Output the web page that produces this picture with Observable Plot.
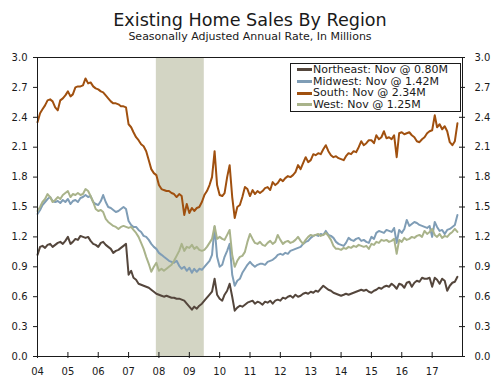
<!DOCTYPE html>
<html>
<head>
<meta charset="utf-8">
<script src="https://cdn.jsdelivr.net/npm/d3@7"></script>
<script src="https://cdn.jsdelivr.net/npm/@observablehq/plot@0.6"></script>
<style>
  html, body { margin: 0; padding: 0; background: #fff; }
  #wrap { position: relative; width: 500px; height: 378px; font-family: "DejaVu Sans", Verdana, sans-serif; color: #1a1a1a; }
  #title { position: absolute; left: 0; width: 500px; top: 11.5px; text-align: center; font-size: 17.6px; line-height: 1; }
  #subtitle { position: absolute; left: 0; width: 500px; top: 31px; text-align: center; font-size: 11px; line-height: 1; }
  #chart { position: absolute; left: 0; top: 48px; }
  #legend { position: absolute; left: 290px; top: 63px; width: 171px; height: 49px; border: 1px solid #1a1a1a; background: #fff; box-sizing: border-box; padding-top: 0px; }
  .row { display: flex; align-items: center; height: 11.7px; font-size: 11px; line-height: 11.7px; white-space: nowrap; }
  .sw { display: inline-block; width: 15px; height: 3px; margin-left: 6px; margin-right: 1px; }
</style>
</head>
<body>
<div id="wrap">
  <div id="title">Existing Home Sales By Region</div>
  <div id="subtitle">Seasonally Adjusted Annual Rate, In Millions</div>
  <div id="chart"></div>
  <div id="legend"></div>
</div>
<script>
// Monthly data, Jan 2004 .. Nov 2017 (millions, SAAR)
const startYear = 2004;
const northeast = [
  1.02,1.10,1.11,1.09,1.12,1.13,1.10,1.12,1.14,1.15,1.13,1.16,
  1.20,1.13,1.15,1.18,1.17,1.21,1.20,1.19,1.20,1.16,1.13,1.12,
  1.10,1.14,1.15,1.12,1.10,1.08,1.04,1.06,1.07,1.09,1.11,1.13,
  0.82,0.86,0.79,0.77,0.73,0.72,0.71,0.70,0.69,0.67,0.65,0.63,
  0.62,0.61,0.60,0.61,0.60,0.59,0.59,0.58,0.58,0.57,0.56,0.53,
  0.50,0.47,0.50,0.48,0.51,0.53,0.56,0.59,0.62,0.65,0.78,0.62,
  0.58,0.56,0.62,0.66,0.73,0.60,0.46,0.49,0.51,0.50,0.52,0.54,
  0.55,0.56,0.53,0.55,0.54,0.52,0.55,0.54,0.56,0.53,0.56,0.57,
  0.56,0.59,0.58,0.60,0.61,0.59,0.62,0.60,0.61,0.63,0.64,0.63,
  0.65,0.64,0.66,0.65,0.68,0.71,0.69,0.67,0.66,0.64,0.63,0.62,
  0.61,0.62,0.63,0.62,0.63,0.64,0.65,0.66,0.67,0.66,0.67,0.65,
  0.64,0.66,0.67,0.69,0.68,0.70,0.71,0.70,0.73,0.71,0.68,0.73,
  0.72,0.69,0.74,0.75,0.70,0.74,0.76,0.75,0.79,0.78,0.78,0.79,
  0.70,0.79,0.77,0.73,0.78,0.76,0.66,0.71,0.74,0.75,0.80
];
const midwest = [
  1.43,1.47,1.52,1.55,1.58,1.60,1.56,1.55,1.56,1.54,1.57,1.55,
  1.58,1.53,1.56,1.57,1.55,1.59,1.60,1.62,1.60,1.61,1.55,1.53,
  1.52,1.56,1.62,1.55,1.50,1.49,1.47,1.45,1.46,1.48,1.50,1.48,
  1.36,1.32,1.30,1.30,1.27,1.25,1.21,1.20,1.17,1.13,1.10,1.08,
  1.04,1.02,1.00,0.98,0.96,0.95,0.94,0.96,0.91,0.88,0.90,0.86,
  0.89,0.84,0.88,0.85,0.88,0.87,0.90,0.93,0.96,1.02,1.30,1.00,
  0.90,0.92,1.00,1.06,1.13,0.82,0.71,0.76,0.78,0.84,0.88,0.92,
  0.95,0.92,0.90,0.92,0.93,0.93,0.92,0.95,0.96,0.97,0.99,1.02,
  1.03,1.02,1.04,1.03,1.06,1.07,1.08,1.09,1.10,1.13,1.15,1.16,
  1.19,1.21,1.22,1.21,1.23,1.22,1.26,1.22,1.21,1.19,1.15,1.13,
  1.12,1.11,1.14,1.19,1.17,1.16,1.18,1.19,1.16,1.17,1.15,1.14,
  1.20,1.18,1.24,1.26,1.25,1.24,1.27,1.26,1.25,1.29,1.14,1.27,
  1.24,1.28,1.37,1.31,1.33,1.35,1.34,1.32,1.31,1.30,1.29,1.31,
  1.20,1.35,1.30,1.26,1.27,1.23,1.27,1.28,1.30,1.32,1.42
];
const south = [
  2.35,2.44,2.48,2.52,2.57,2.58,2.56,2.50,2.47,2.57,2.59,2.62,
  2.66,2.61,2.63,2.70,2.71,2.71,2.72,2.79,2.74,2.75,2.71,2.69,
  2.68,2.66,2.65,2.62,2.59,2.56,2.54,2.54,2.53,2.51,2.51,2.50,
  2.33,2.30,2.25,2.20,2.17,2.13,2.11,2.06,1.97,1.88,1.84,1.82,
  1.72,1.68,1.67,1.66,1.66,1.64,1.63,1.60,1.63,1.61,1.42,1.53,
  1.44,1.49,1.46,1.49,1.50,1.55,1.62,1.66,1.72,1.80,2.06,1.72,
  1.62,1.61,1.64,1.80,1.92,1.60,1.39,1.50,1.52,1.60,1.70,1.68,
  1.61,1.67,1.63,1.66,1.64,1.66,1.69,1.70,1.67,1.75,1.72,1.74,
  1.78,1.76,1.79,1.81,1.80,1.82,1.85,1.92,1.88,1.94,2.00,1.95,
  1.97,2.03,2.02,2.04,2.03,2.08,2.12,2.06,2.02,2.00,2.01,1.99,
  1.98,1.97,2.01,2.04,2.03,2.06,2.05,2.10,2.16,2.12,2.14,2.17,
  2.17,2.14,2.22,2.18,2.20,2.26,2.19,2.20,2.18,2.22,2.00,2.24,
  2.25,2.23,2.24,2.25,2.22,2.20,2.16,2.15,2.18,2.20,2.24,2.26,
  2.27,2.42,2.30,2.33,2.28,2.31,2.26,2.15,2.12,2.16,2.34
];
const west = [
  1.46,1.50,1.55,1.58,1.63,1.60,1.55,1.57,1.60,1.58,1.62,1.64,
  1.66,1.60,1.63,1.62,1.64,1.62,1.63,1.68,1.66,1.61,1.55,1.48,
  1.46,1.47,1.45,1.38,1.35,1.33,1.31,1.30,1.28,1.30,1.31,1.30,
  1.29,1.30,1.27,1.24,1.20,1.14,1.08,1.00,0.93,0.85,0.90,0.94,
  0.86,0.88,0.86,0.88,0.90,0.92,0.96,1.01,1.06,1.13,1.06,1.10,
  1.09,1.12,1.08,1.10,1.07,1.06,1.07,1.10,1.14,1.18,1.31,1.18,
  1.20,1.18,1.17,1.22,1.27,1.02,0.90,0.96,1.00,1.01,1.05,1.15,
  1.23,1.18,1.14,1.13,1.15,1.12,1.11,1.14,1.16,1.13,1.15,1.22,
  1.17,1.13,1.15,1.16,1.14,1.15,1.17,1.20,1.16,1.13,1.17,1.20,
  1.22,1.21,1.22,1.23,1.21,1.22,1.24,1.21,1.17,1.11,1.08,1.08,
  1.07,1.09,1.08,1.10,1.09,1.11,1.10,1.12,1.11,1.10,1.11,1.08,
  1.13,1.12,1.15,1.14,1.17,1.16,1.17,1.15,1.16,1.18,1.03,1.17,
  1.15,1.19,1.17,1.18,1.20,1.19,1.21,1.22,1.20,1.26,1.23,1.25,
  1.28,1.22,1.20,1.23,1.19,1.21,1.20,1.23,1.25,1.28,1.25
];
const regions = ["Northeast", "Midwest", "South", "West"];
const legendLabels = ["Northeast: Nov @ 0.80M", "Midwest: Nov @ 1.42M", "South: Nov @ 2.34M", "West: Nov @ 1.25M"];
const colors = ["#54463c", "#7f9db6", "#a0500f", "#a9b38a"];
const yTicks = [0, 0.3, 0.6, 0.9, 1.2, 1.5, 1.8, 2.1, 2.4, 2.7, 3.0];
const xTickYears = [2004,2005,2006,2007,2008,2009,2010,2011,2012,2013,2014,2015,2016,2017];
const recession = [{start: "2007-12-01", end: "2009-06-30"}];

const seriesList = [northeast, midwest, south, west];
const rows = [];
seriesList.forEach((arr, i) => {
  arr.forEach((v, k) => {
    rows.push({region: regions[i], date: new Date(Date.UTC(startYear, k, 1)), value: v});
  });
});
const xTicks = xTickYears.map(y => new Date(Date.UTC(y, 0, 1)));
const rec = recession.map(r => ({x1: new Date(r.start + "T00:00Z"), x2: new Date(r.end + "T00:00Z")}));

const chart = Plot.plot({
  width: 500,
  height: 330,
  marginTop: 9,
  marginBottom: 22,
  marginLeft: 37,
  marginRight: 38,
  style: {fontFamily: "DejaVu Sans, Verdana, sans-serif", fontSize: "10px", color: "#1a1a1a", background: "transparent"},
  x: {type: "utc", domain: [new Date(Date.UTC(2004, 0, 1)), new Date(Date.UTC(2018, 0, 1))]},
  y: {domain: [0, 3]},
  color: {domain: regions, range: colors},
  marks: [
    Plot.rect(rec, {x1: "x1", x2: "x2", fill: "#d3d5c4"}),
    ...regions.map(r => Plot.line(rows.filter(d => d.region === r), {x: "date", y: "value", stroke: "region", strokeWidth: 2})),
    Plot.frame({stroke: "#1a1a1a"}),
    Plot.axisX(xTicks, {tickFormat: d3.utcFormat("%y"), tickSize: 2, tickPadding: 9, label: null}),
    Plot.axisX(xTicks, {tickSize: -4, text: null, label: null}),
    Plot.axisY(yTicks, {anchor: "left", tickFormat: ".1f", tickSize: 4, tickPadding: 6, label: null}),
    Plot.axisY(yTicks, {anchor: "right", tickFormat: ".1f", tickSize: 2, tickPadding: 10, label: null}),
    Plot.axisY(yTicks, {anchor: "right", tickSize: -4, text: null, label: null})
  ]
});
document.getElementById("chart").appendChild(chart);

const legend = document.getElementById("legend");
regions.forEach((r, i) => {
  const row = document.createElement("div");
  row.className = "row";
  const sw = document.createElement("span");
  sw.className = "sw";
  sw.style.background = colors[i];
  const t = document.createElement("span");
  t.textContent = legendLabels[i];
  row.appendChild(sw);
  row.appendChild(t);
  legend.appendChild(row);
});
</script>
</body>
</html>
